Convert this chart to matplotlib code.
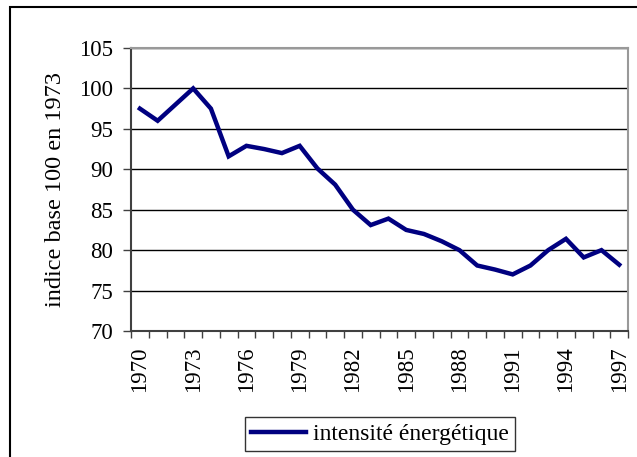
import numpy as np
import matplotlib.pyplot as plt
from matplotlib.patches import Rectangle

years = list(range(1970, 1998))
intensite = [97.5, 96.0, 98.0, 100.0, 97.5, 91.6, 92.9, 92.5, 92.0, 92.9,
             90.1, 88.1, 85.0, 83.1, 83.9, 82.5, 82.0, 81.1, 80.0, 78.1,
             77.6, 77.0, 78.1, 80.0, 81.4, 79.1, 80.0, 78.2]
yticks = [70, 75, 80, 85, 90, 95, 100, 105]

plt.rcParams["font.family"] = ["Liberation Serif", "DejaVu Serif"]

fig = plt.figure(figsize=(6.37, 4.57), dpi=100)
ax = fig.add_axes([0.2057, 0.2757, 0.7803, 0.6193])

x = np.arange(len(years))
ax.plot(x, intensite, color="#000080", linewidth=3.2, solid_joinstyle="miter",
        label="intensité énergétique")

ax.set_xlim(-0.5, len(years) - 0.5)
ax.set_ylim(70, 105)
ax.set_yticks(yticks)
ax.set_yticklabels([str(v) for v in yticks], fontsize=16.5)
ax.yaxis.grid(True, color="black", linewidth=1)
ax.set_axisbelow(True)

# ticks at category boundaries, labels every third year
ax.set_xticks(np.arange(-0.5, len(years), 1.0))
ax.set_xticklabels([])
ax.set_xticks(x[::3], minor=True)
ax.set_xticklabels([str(y) for y in years[::3]], minor=True, rotation=90, fontsize=16.5)
ax.tick_params(axis="x", which="major", length=5, width=1, color="#404040", direction="out")
ax.tick_params(axis="x", which="minor", length=0, pad=11)
ax.tick_params(axis="y", length=6, width=1, color="#404040", pad=7)

ax.set_ylabel("indice base 100 en 1973", fontsize=17.5, labelpad=9)

for side in ["top", "right"]:
    ax.spines[side].set_color("#999999")
    ax.spines[side].set_linewidth(1.5)
for side in ["left", "bottom"]:
    ax.spines[side].set_color("#404040")
    ax.spines[side].set_linewidth(1.5)

fig.legend(loc="center", bbox_to_anchor=(0.5966, 0.0503), fontsize=17, frameon=True,
           fancybox=False, edgecolor="black", handlelength=2.3, borderpad=0.25,
           handletextpad=0.3, borderaxespad=0)

# outer chart frame
fig.patches.append(Rectangle((10 / 637, -0.05), 1.0, 1 - 7 / 457 + 0.05,
                             transform=fig.transFigure, fill=False,
                             edgecolor="black", linewidth=1.5))

fig.savefig("out.png", dpi=100)
